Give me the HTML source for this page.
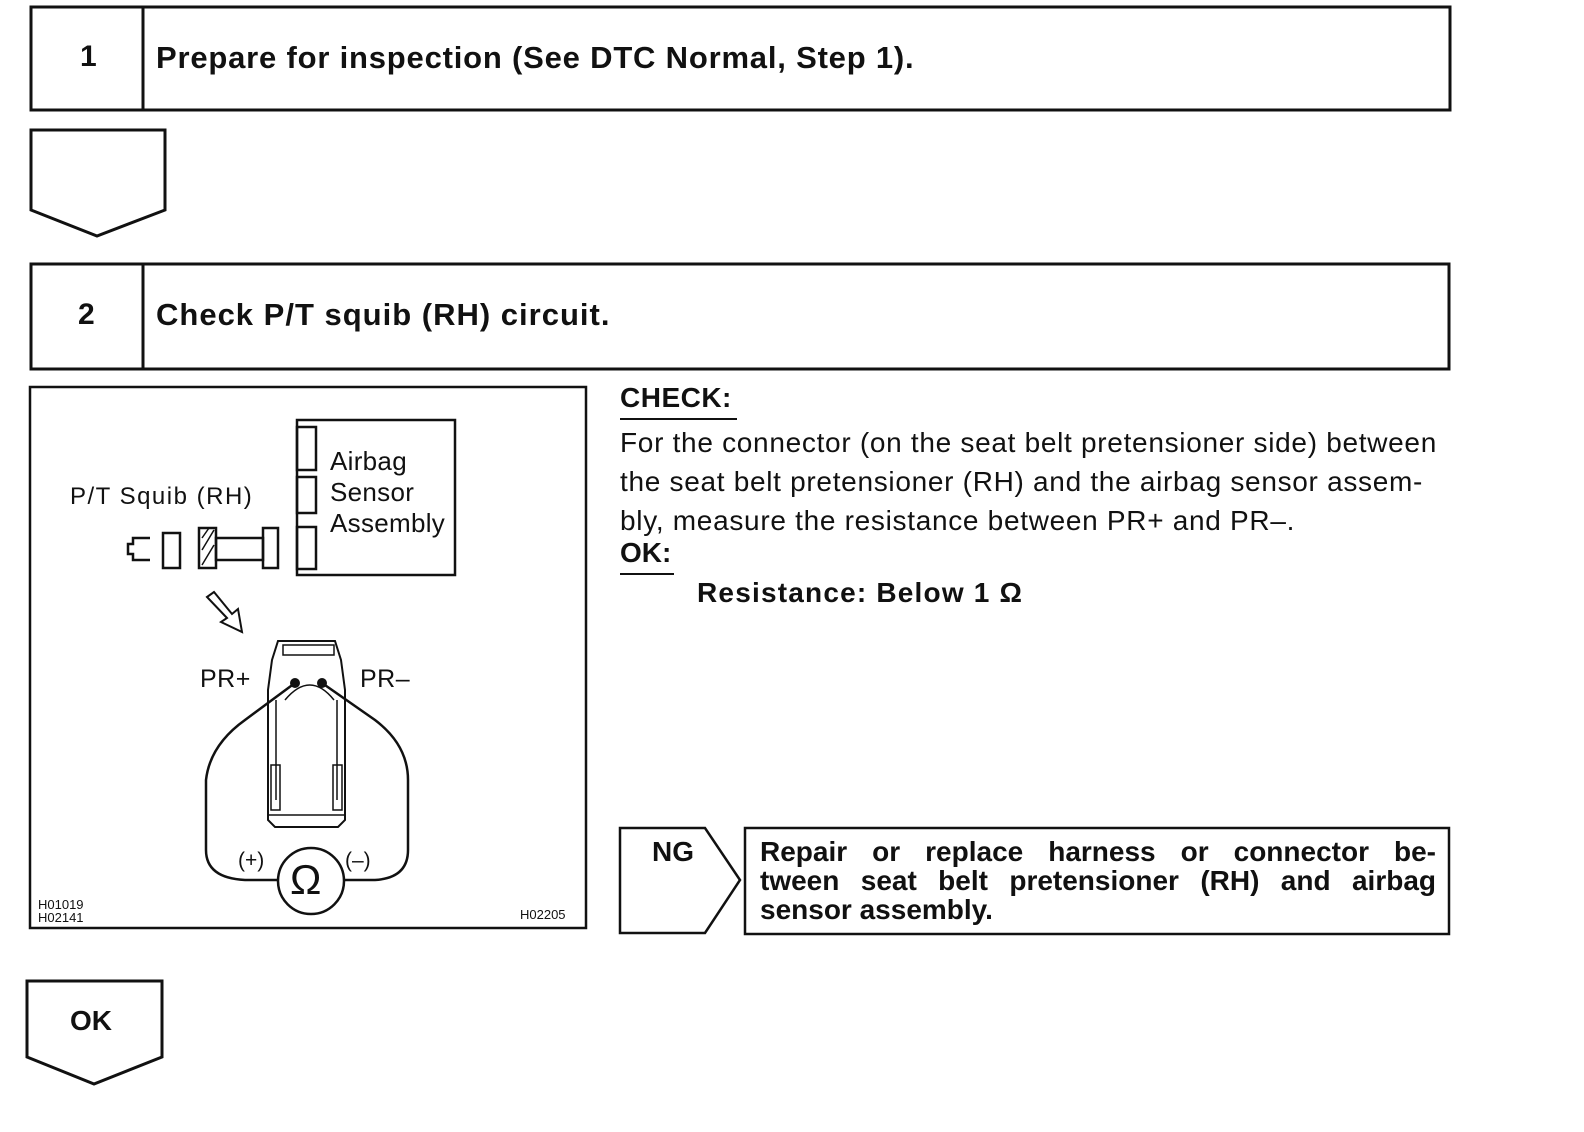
<!DOCTYPE html>
<html><head><style>
body{margin:0;width:1584px;height:1132px;background:#fff;position:relative;font-family:"Liberation Sans",Arial,sans-serif;color:#111;overflow:hidden}
.a{position:absolute;white-space:nowrap}
.b{font-weight:bold}
.j{text-align:justify;text-align-last:justify;width:676px;height:29px}
</style></head><body>
<svg class="a" style="left:0;top:0" width="1584" height="1132">
<g fill="none" stroke="#111" stroke-width="3">
<rect x="31" y="7" width="1419" height="103"/><line x1="143" y1="7" x2="143" y2="110"/>
<path d="M31 130H165V210L97 236L31 210Z"/>
<rect x="31" y="264" width="1418" height="105"/><line x1="143" y1="264" x2="143" y2="369"/>
<rect x="30" y="387" width="556" height="541" stroke-width="2.5"/>
<path d="M620 828H705L740 880L705 933H620Z" stroke-width="2.5"/>
<rect x="745" y="828" width="704" height="106" stroke-width="2.5"/>
<path d="M27 981H162V1057L94 1084L27 1057Z"/>
</g>
<g fill="none" stroke="#111" stroke-width="2.5">
<rect x="297" y="420" width="158" height="155"/>
<rect x="297" y="427" width="19" height="43"/><rect x="297" y="477" width="19" height="36"/><rect x="297" y="527" width="19" height="42"/>
<path d="M150 538H133V544H128V554H133V560H150"/>
<rect x="163" y="533" width="17" height="35"/>
<rect x="199" y="528" width="17" height="40"/>
<path d="M202 565L214 545M202 550L214 530M202 538L209 528" stroke-width="1.5"/>
<rect x="216" y="538" width="47" height="22"/>
<rect x="263" y="528" width="15" height="40"/>
<path d="M207 597L214 592L232 614L238 609L242 632L221 622L227 618Z" stroke-width="2"/>
<path d="M278 641H335L341 660L345 690V820L338 827H275L268 820V690L272 660Z" stroke-width="2"/>
<path d="M283 645H334V655H283Z" stroke-width="1.5"/>
<path d="M285 700Q310 670 334 700" stroke-width="1.5"/>
<path d="M276 700V800M337 700V800" stroke-width="1.5"/>
<rect x="271" y="765" width="9" height="45" stroke-width="1.5"/><rect x="333" y="765" width="9" height="45" stroke-width="1.5"/>
<path d="M268 815H345" stroke-width="1.5"/>
<path d="M295 683L245 720Q210 745 206 780V850Q206 878 245 880H278"/>
<path d="M322 683L375 720Q408 745 408 780V850Q408 878 375 880H344"/>
<circle cx="311" cy="881" r="33"/>
</g>
<circle cx="295" cy="683" r="5" fill="#111"/><circle cx="322" cy="683" r="5" fill="#111"/>
<line x1="620" y1="419" x2="737" y2="419" stroke="#111" stroke-width="2"/>
<line x1="620" y1="574" x2="674" y2="574" stroke="#111" stroke-width="2"/>
</svg>
<div class="a b" style="left:80px;top:40px;font-size:30px">1</div>
<div class="a b" style="left:156px;top:40px;font-size:31px;letter-spacing:0.8px">Prepare for inspection (See DTC Normal, Step 1).</div>
<div class="a b" style="left:78px;top:298px;font-size:30px">2</div>
<div class="a b" style="left:156px;top:297px;font-size:31px;letter-spacing:1.0px">Check P/T squib (RH) circuit.</div>
<div class="a" style="left:70px;top:483px;font-size:24px;letter-spacing:1.5px">P/T Squib (RH)</div>
<div class="a" style="left:330px;top:446px;font-size:26px;line-height:31px;letter-spacing:0.3px">Airbag<br>Sensor<br>Assembly</div>
<div class="a" style="left:200px;top:665px;font-size:25px;letter-spacing:0.5px">PR+</div>
<div class="a" style="left:360px;top:665px;font-size:25px;letter-spacing:0.5px">PR–</div>
<div class="a" style="left:238px;top:849px;font-size:21px">(+)</div>
<div class="a" style="left:345px;top:849px;font-size:21px">(–)</div>
<div class="a" style="left:290px;top:856px;font-size:42px">Ω</div>
<div class="a" style="left:38px;top:898px;font-size:13px;line-height:13px">H01019<br>H02141</div>
<div class="a" style="left:520px;top:907px;font-size:13px">H02205</div>
<div class="a b" style="left:620px;top:382px;font-size:28px;letter-spacing:0.5px">CHECK:</div>
<div class="a" style="left:620px;top:423px;font-size:28px;line-height:39px;letter-spacing:0.7px">For the connector (on the seat belt pretensioner side) between<br>the seat belt pretensioner (RH) and the airbag sensor assem-<br>bly, measure the resistance between PR+ and PR–.</div>
<div class="a b" style="left:620px;top:537px;font-size:28px">OK:</div>
<div class="a b" style="left:697px;top:577px;font-size:28px;letter-spacing:1.2px">Resistance: Below 1 Ω</div>
<div class="a b" style="left:652px;top:836px;font-size:28px">NG</div>
<div class="a b" style="left:760px;top:837px;font-size:28px;line-height:29px;white-space:normal">
<div class="j">Repair or replace harness or connector be-</div>
<div class="j">tween seat belt pretensioner (RH) and airbag</div>
<div style="height:29px">sensor assembly.</div>
</div>
<div class="a b" style="left:70px;top:1005px;font-size:28px">OK</div>
</body></html>
